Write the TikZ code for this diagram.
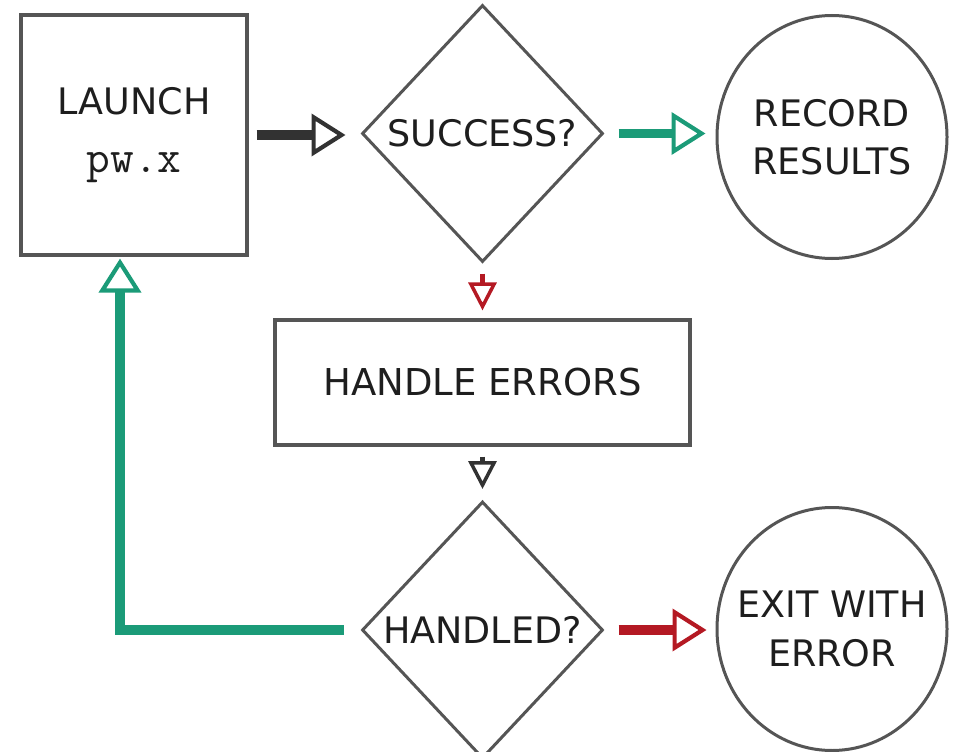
\documentclass[tikz,border=0pt]{standalone}
\usepackage{fontspec}
\setmainfont{DejaVu Sans}
\usetikzlibrary{shapes.geometric,arrows.meta}

\definecolor{okgreen}{RGB}{27,155,120}
\definecolor{failred}{RGB}{180,25,35}
\definecolor{edgegray}{RGB}{85,85,85}
\definecolor{ink}{RGB}{30,30,30}
\definecolor{flowgray}{RGB}{50,50,50}

\begin{document}
\begin{tikzpicture}[x=1pt,y=-1pt,
  box/.style={draw=edgegray, line width=3.2pt, rectangle, inner sep=0pt,
    text=ink, font=\fontsize{36.5}{58}\selectfont, align=center},
  decision/.style={draw=edgegray, line width=3pt, diamond, inner sep=0pt,
    minimum width=241pt, minimum height=257pt, text=ink,
    font=\fontsize{36.5}{48}\selectfont},
  terminal/.style={draw=edgegray, line width=3pt, ellipse, inner sep=0pt,
    minimum width=230pt, minimum height=243pt},
  termtext/.style={inner sep=0pt, text=ink, align=center,
    font=\fontsize{36.5}{48.5}\selectfont},
  bigarrow/.style={line width=9.5pt,
    -{Triangle[open, length=34pt, width=42pt, line width=4.2pt]}},
  smallarrow/.style={line width=4.5pt,
    -{Triangle[open, length=28pt, width=28pt, line width=3.5pt]}},
]
\useasboundingbox (0,0) rectangle (956,752);

% nodes
\node[box, minimum width=226pt, minimum height=240pt] (launch) at (134,135)
  {LAUNCH\\{\ttfamily\fontsize{46}{58}\selectfont pw.x}};
\node[decision] (success) at (482.5,133.5) {SUCCESS?};
\node[terminal] (record) at (832,137) {};
\node[termtext] (recordtxt) at (record) {RECORD\\RESULTS};
\node[box, minimum width=415pt, minimum height=125pt,
  font=\fontsize{37}{48}\selectfont] (handle) at (482.5,382.5) {HANDLE ERRORS};
\node[decision] (handled) at (482.5,630) {HANDLED?};
\node[terminal] (exit) at (832,629) {};
\node[termtext] (exittxt) at (exit) {EXIT WITH\\ERROR};

% connectors
\draw[bigarrow, flowgray, shorten <=8pt, shorten >=15pt]
  (launch.east) -- (launch.east -| success.west);
\draw[bigarrow, okgreen, shorten <=14pt, shorten >=10pt]
  (success.east) -- (success.east -| record.west);
\draw[smallarrow, failred, shorten <=10pt, shorten >=8pt]
  (success.south) -- (handle.north);
\draw[smallarrow, flowgray, shorten <=10pt, shorten >=11pt]
  (handle.south) -- (handled.north);
\draw[bigarrow, failred, shorten <=14pt, shorten >=9pt]
  (handled.east) -- (handled.east -| exit.west);
\coordinate (loop) at (120,630);
\draw[bigarrow, okgreen, shorten <=17pt, shorten >=2pt]
  (handled.west) -- (loop) -- (loop |- launch.south);
\end{tikzpicture}
\end{document}
